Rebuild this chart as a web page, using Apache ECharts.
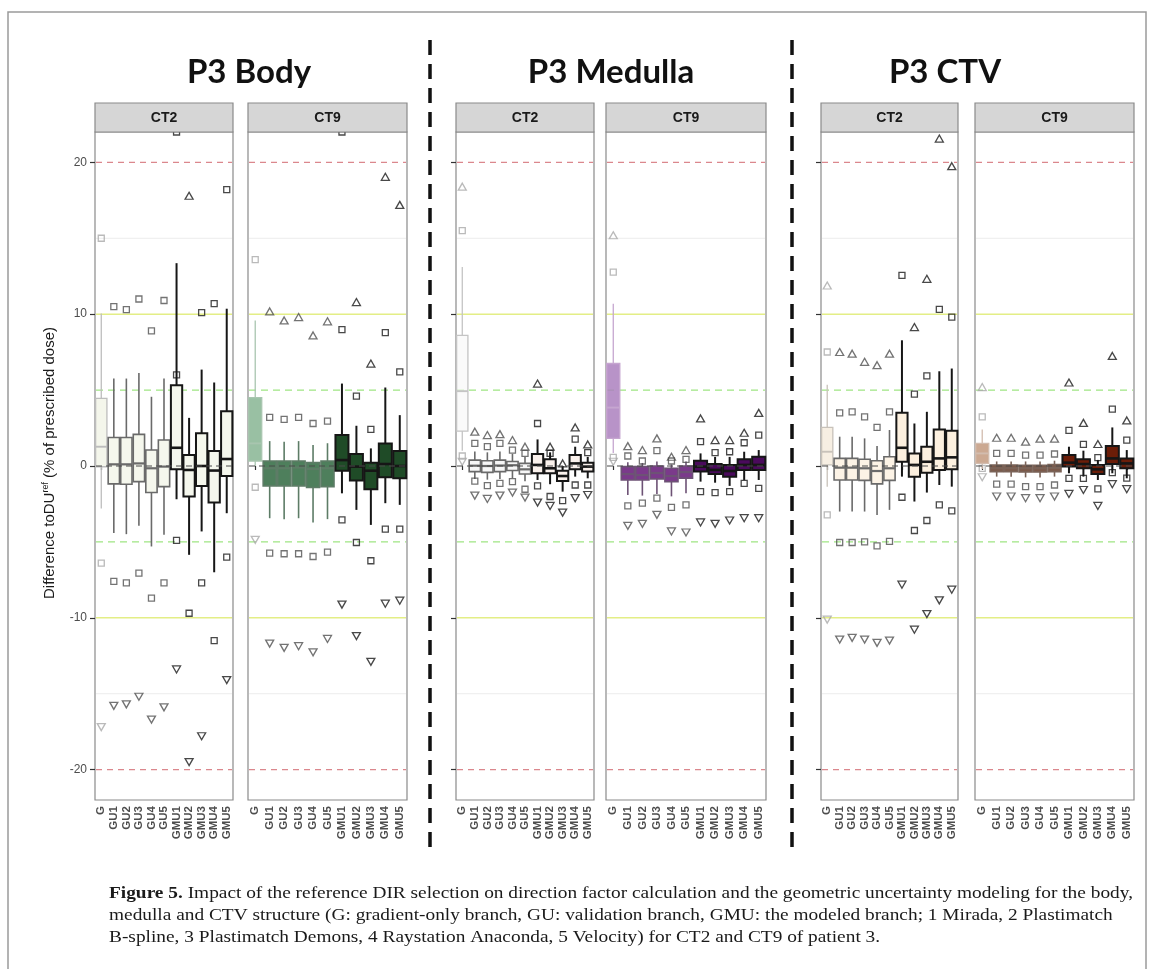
<!DOCTYPE html>
<html><head><meta charset="utf-8">
<script src="https://cdn.jsdelivr.net/npm/echarts@6/dist/echarts.min.js"></script>
<style>html,body{margin:0;padding:0;background:#fff}#c{width:1153px;height:969px}</style>
</head><body><div id="c"></div>
<script>
// ---------------- DATA ----------------
const categories = ['G','GU1','GU2','GU3','GU4','GU5','GMU1','GMU2','GMU3','GMU4','GMU5'];
const yTicks = [-20, -10, 0, 10, 20];
const refLineValues = [20, 15, 10, 5, -5, -10, -15, -20];
const groupTitles = ['P3 Body', 'P3 Medulla', 'P3 CTV'];
const facetLabels = ['CT2', 'CT9'];

// box: [low whisker, Q1, median, Q3, high whisker]
const bodyCT2Box = [[-2.8,-0.05,1.27,4.45,10.05],[-4.42,-1.18,0.11,1.88,5.76],[-4.49,-1.2,0.11,1.88,5.76],[-3.94,-1.03,0.17,2.08,6.13],[-5.3,-1.75,-0.15,1.05,4.56],[-4.53,-1.36,-0.04,1.71,5.76],[-2.19,-0.22,1.2,5.32,13.36],[-5.85,-2.01,-0.26,0.72,3.17],[-4.31,-1.31,0.0,2.15,6.35],[-7.0,-2.41,-0.3,0.99,5.5],[-3.11,-0.66,0.46,3.61,10.36]];
const bodyCT2Up = [null,null,null,null,null,null,null,17.8,null,null,null];
const bodyCT2Sq = [[15.0,-6.4],[10.5,-7.6],[10.3,-7.7],[11.0,-7.05],[8.9,-8.7],[10.9,-7.7],[22.0,6.0,-4.9],[-9.7],[10.1,-7.7],[10.7,-11.5],[18.2,-6.0]];
const bodyCT2Down = [-17.2,-15.8,-15.7,-15.2,-16.7,-15.9,-13.4,-19.5,-17.8,null,-14.1];

const bodyCT9Box = [[0.0,0.33,1.49,4.51,9.59],[-3.44,-1.31,-0.15,0.33,1.64],[-3.5,-1.31,-0.15,0.33,1.6],[-3.44,-1.31,-0.1,0.33,1.64],[-3.72,-1.42,-0.2,0.22,1.38],[-3.5,-1.36,-0.15,0.33,1.5],[-1.8,-0.31,0.39,2.04,5.43],[-2.89,-0.96,-0.04,0.79,2.65],[-3.88,-1.53,-0.31,0.22,1.16],[-2.45,-0.74,0.13,1.49,5.17],[-2.56,-0.81,0.0,0.99,3.35]];
const bodyCT9Up = [null,10.18,9.59,9.81,8.6,9.53,null,10.8,6.75,19.05,17.2];
const bodyCT9Sq = [[13.6,-1.4],[3.2,-5.74],[3.07,-5.78],[3.2,-5.78],[2.8,-5.96],[2.96,-5.67],[22.0,8.98,-3.55],[4.6,-5.04],[2.41,-6.24],[8.78,-4.16],[6.2,-4.16]];
const bodyCT9Down = [-4.86,-11.7,-11.98,-11.87,-12.27,-11.39,-9.13,-11.2,-12.9,-9.07,-8.87];

const medCT2Box = [[1.0,2.3,4.93,8.6,13.1],[-0.85,-0.37,0.02,0.39,0.95],[-0.9,-0.42,0.0,0.35,0.9],[-0.85,-0.37,0.03,0.39,0.95],[-0.8,-0.3,0.05,0.3,0.8],[-1.0,-0.53,-0.22,0.17,0.6],[-0.92,-0.48,0.07,0.79,1.75],[-1.2,-0.48,-0.15,0.44,0.9],[-1.69,-0.99,-0.66,-0.31,0.0],[-0.7,-0.22,0.17,0.72,1.27],[-0.81,-0.37,-0.04,0.22,0.6]];
const medCT2Up = [18.4,2.26,2.04,2.1,1.71,1.27,5.43,1.27,0.17,2.54,1.42];
const medCT2Sq = [[15.5,0.66],[1.49,-0.99],[1.27,-1.29],[1.49,-1.14],[1.05,-1.03],[0.83,-1.53],[2.8,-1.31],[0.83,-2.01],[-2.28],[1.77,-1.25],[0.88,-1.25]];
const medCT2Down = [0.28,-1.95,-2.17,-1.95,-1.75,-2.08,-2.41,-2.63,-3.07,-2.12,-1.91];

const medCT9Box = [[0.85,1.82,3.85,6.75,10.69],[-1.91,-0.92,-0.53,-0.04,0.25],[-1.95,-0.92,-0.6,-0.04,0.2],[-1.85,-0.85,-0.46,0.0,0.3],[-2.0,-1.03,-0.66,-0.15,0.1],[-1.8,-0.8,-0.4,0.0,0.3],[-1.03,-0.37,-0.04,0.35,0.83],[-1.1,-0.53,-0.26,0.13,0.6],[-1.31,-0.7,-0.33,0.07,0.6],[-0.92,-0.26,0.07,0.44,0.94],[-0.92,-0.26,0.07,0.61,1.05]];
const medCT9Up = [15.2,1.31,1.05,1.82,0.61,1.05,3.13,1.71,1.71,2.19,3.5];
const medCT9Sq = [[12.77,0.57],[0.66,-2.63],[0.33,-2.45],[1.01,-2.12],[0.33,-2.72],[0.44,-2.56],[1.6,-1.69],[0.88,-1.75],[0.94,-1.69],[1.53,-1.14],[2.04,-1.47]];
const medCT9Down = [0.28,-3.94,-3.81,-3.22,-4.31,-4.38,-3.72,-3.81,-3.59,-3.44,-3.44];

const ctvCT2Box = [[-1.36,0.07,0.94,2.54,5.36],[-3.0,-0.92,-0.11,0.5,1.93],[-3.0,-0.92,-0.11,0.5,1.93],[-3.0,-0.95,-0.15,0.44,1.82],[-3.22,-1.18,-0.33,0.35,1.31],[-2.89,-0.95,-0.15,0.61,2.37],[-0.7,0.28,1.2,3.5,8.28],[-2.34,-0.7,0.07,0.83,2.8],[-1.75,-0.44,0.28,1.27,3.57],[-1.25,-0.26,0.5,2.41,6.24],[-1.36,-0.22,0.57,2.32,6.42]];
const ctvCT2Up = [11.89,7.51,7.4,6.86,6.64,7.4,null,9.15,12.33,21.57,19.75];
const ctvCT2Sq = [[7.51,-3.22],[3.5,-5.04],[3.57,-5.04],[3.24,-5.0],[2.54,-5.26],[3.57,-4.97],[12.55,-2.06],[4.73,-4.25],[5.93,-3.59],[10.32,-2.56],[9.81,-2.96]];
const ctvCT2Down = [-10.12,-11.43,-11.32,-11.43,-11.65,-11.5,-7.82,-10.78,-9.75,-8.85,-8.15];

const ctvCT9Box = [[-0.2,0.17,0.83,1.49,2.4],[-0.7,-0.37,-0.15,0.07,0.3],[-0.7,-0.37,-0.15,0.07,0.3],[-0.75,-0.4,-0.15,0.05,0.3],[-0.75,-0.4,-0.15,0.05,0.3],[-0.7,-0.37,-0.12,0.1,0.35],[-0.48,-0.04,0.22,0.72,1.27],[-0.7,-0.15,0.13,0.44,1.01],[-0.92,-0.53,-0.22,0.07,0.4],[-0.48,0.13,0.5,1.31,2.54],[-0.81,-0.15,0.17,0.5,1.05]];
const ctvCT9Up = [5.2,1.86,1.86,1.6,1.8,1.8,5.5,2.84,1.45,7.25,3.0];
const ctvCT9Sq = [[3.24,-0.15],[0.83,-1.2],[0.83,-1.2],[0.72,-1.36],[0.72,-1.36],[0.79,-1.25],[2.34,-0.81],[1.42,-0.81],[0.55,-1.51],[3.75,-0.44],[1.71,-0.8]];
const ctvCT9Down = [-0.74,-2.01,-2.01,-2.12,-2.12,-2.01,-1.84,-1.58,-2.63,-1.2,-1.53];

// ---------------- STYLE / LAYOUT ----------------
const PT = {G:'#a9a9a9', GU:'#505050', GMU:'#1a1a1a'};
function pal(gFill, gStroke, guFill, guStroke, gmuFill) {
  return {
    G:{fill:gFill, stroke:gStroke, lw:1.3},
    GU:{fill:guFill, stroke:guStroke, lw:1.6},
    GMU:{fill:gmuFill, stroke:'#161616', lw:2}
  };
}
const panels = [
  {left:95, width:138, box:bodyCT2Box, up:bodyCT2Up, sq:bodyCT2Sq, down:bodyCT2Down, facet:0, ticks:true, labels:true,
   pal:pal('rgba(236,240,222,0.6)','#bdbdbd','#f5f7ed','#6a6a6a','#f5f7ed')},
  {left:248, width:159, box:bodyCT9Box, up:bodyCT9Up, sq:bodyCT9Sq, down:bodyCT9Down, facet:1, ticks:false, labels:false,
   pal:pal('rgba(128,176,140,0.8)','#a8c5af','#4e7f5c','#5d7c66','#1f4b27')},
  {left:456, width:138, box:medCT2Box, up:medCT2Up, sq:medCT2Sq, down:medCT2Down, facet:0, ticks:true, labels:false,
   pal:pal('rgba(246,246,246,0.6)','#c4c4c4','#f7f7f7','#6a6a6a','#faf1ec')},
  {left:606, width:160, box:medCT9Box, up:medCT9Up, sq:medCT9Sq, down:medCT9Down, facet:1, ticks:false, labels:false,
   pal:pal('rgba(172,128,190,0.85)','#c6a6d0','#7b3a8b','#6d5275','#4a0a5c')},
  {left:821, width:137, box:ctvCT2Box, up:ctvCT2Up, sq:ctvCT2Sq, down:ctvCT2Down, facet:0, ticks:true, labels:false,
   pal:pal('rgba(244,234,218,0.75)','#c8c2ba','#fcf3e6','#6a6a6a','#fcf0df')},
  {left:975, width:159, box:ctvCT9Box, up:ctvCT9Up, sq:ctvCT9Sq, down:ctvCT9Down, facet:1, ticks:false, labels:false,
   pal:pal('rgba(198,160,134,0.9)','#d2bcae','#7b5848','#7a6358','#6b1d08')}
];
const GRID_TOP = 132, GRID_H = 668, STRIP_TOP = 103;
function grp(i){ return i === 0 ? 'G' : (i <= 5 ? 'GU' : 'GMU'); }
function refStyle(v){
  const a = Math.abs(v);
  if (a === 20) return {c:'#db878d', w:1.3, d:[6,5]};
  if (a === 15) return {c:'#ececec', w:1, d:null};
  if (a === 10) return {c:'#e3ee86', w:1.6, d:null};
  return {c:'#9fe583', w:1.4, d:[7,5]};
}

const grids = [], xAxes = [], yAxes = [], series = [], graphics = [];
panels.forEach((p, k) => {
  grids.push({left:p.left, top:GRID_TOP, width:p.width, height:GRID_H, show:true, borderColor:'#8a8a8a', borderWidth:1.2, backgroundColor:'#fff'});
  xAxes.push({type:'category', gridIndex:k, data:categories, boundaryGap:true,
    axisLine:{show:false}, axisTick:{show:true, alignWithLabel:true, length:4, lineStyle:{color:'#333', width:1.2}},
    axisLabel:{rotate:90, margin:6, fontSize:11.5, fontWeight:'bold', color:'#4d4d4d', fontFamily:'Liberation Sans, Arial', interval:0},
    splitLine:{show:false}});
  yAxes.push({type:'value', gridIndex:k, min:-22, max:22,
    axisLine:{show:false}, splitLine:{show:false},
    axisTick:{show:p.ticks, length:5, customValues:yTicks, lineStyle:{color:'#333', width:1.2}},
    axisLabel:{show:p.labels, customValues:yTicks, color:'#4d4d4d', fontSize:12, margin:8, fontFamily:'Liberation Sans, Arial'}});
  // reference lines (behind)
  series.push({type:'custom', xAxisIndex:k, yAxisIndex:k, z:1, silent:true,
    data: refLineValues.map(v => [0, v]), encode:{x:0, y:1},
    renderItem:(params, api) => {
      const cs = params.coordSys; const v = api.value(1);
      const y = api.coord([0, v])[1]; const st = refStyle(v);
      return {type:'line', shape:{x1:cs.x+1, y1:y, x2:cs.x+cs.width-1, y2:y}, style:{stroke:st.c, lineWidth:st.w, lineDash:st.d}};
    }});
  // boxes
  series.push({type:'custom', xAxisIndex:k, yAxisIndex:k, z:2, silent:true,
    data: p.box.map((b, i) => [i].concat(b)), encode:{x:0, y:[1,2,3,4,5]},
    renderItem:(params, api) => {
      const i = api.value(0); const st = p.pal[grp(i)];
      const x = api.coord([i, 0])[0];
      const yl = api.coord([i, api.value(1)])[1], y1 = api.coord([i, api.value(2)])[1],
            ym = api.coord([i, api.value(3)])[1], y3 = api.coord([i, api.value(4)])[1],
            yh = api.coord([i, api.value(5)])[1];
      const bw = api.size([1, 0])[0] * 0.9;
      return {type:'group', children:[
        {type:'line', shape:{x1:x, y1:yh, x2:x, y2:y3}, style:{stroke:st.stroke, lineWidth:st.lw}},
        {type:'line', shape:{x1:x, y1:y1, x2:x, y2:yl}, style:{stroke:st.stroke, lineWidth:st.lw}},
        {type:'rect', shape:{x:x-bw/2, y:y3, width:bw, height:y1-y3}, style:{fill:st.fill, stroke:st.stroke, lineWidth:st.lw}},
        {type:'line', shape:{x1:x-bw/2, y1:ym, x2:x+bw/2, y2:ym}, style:{stroke:st.stroke, lineWidth:st.lw+0.6}}
      ]};
    }});
  // outliers
  const mk = (arr) => { const out = []; arr.forEach((v, i) => { if (v === null) return; (Array.isArray(v) ? v : [v]).forEach(u => out.push({value:[i, u], itemStyle:{borderColor:PT[grp(i)]}})); }); return out; };
  const base = {type:'scatter', xAxisIndex:k, yAxisIndex:k, z:3, silent:true, clip:false,
    itemStyle:{color:'rgba(0,0,0,0)', borderWidth:1.3}};
  series.push(Object.assign({}, base, {symbol:'triangle', symbolSize:[8,7], data:mk(p.up)}));
  series.push(Object.assign({}, base, {symbol:'rect', symbolSize:6, data:mk(p.sq)}));
  series.push(Object.assign({}, base, {symbol:'triangle', symbolRotate:180, symbolSize:[8,7], data:mk(p.down)}));
  // zero line on top
  series.push({type:'custom', xAxisIndex:k, yAxisIndex:k, z:4, silent:true,
    data:[[0, 0]], encode:{x:0, y:1},
    renderItem:(params, api) => {
      const cs = params.coordSys; const y = api.coord([0, api.value(1)])[1];
      return {type:'line', shape:{x1:cs.x+1, y1:y, x2:cs.x+cs.width-1, y2:y}, style:{stroke:'#4a4a4a', lineWidth:1, lineDash:[6,4]}};
    }});
  // strip
  graphics.push({type:'rect', z:100, shape:{x:p.left, y:STRIP_TOP, width:p.width, height:GRID_TOP-STRIP_TOP},
    style:{fill:'#d6d6d6', stroke:'#8a8a8a', lineWidth:1.2}});
  graphics.push({type:'text', z:101, x:p.left + p.width/2, y:(STRIP_TOP+GRID_TOP)/2+1,
    style:{text:facetLabels[p.facet], fontSize:14, fontWeight:'bold', fontFamily:'Liberation Sans, Arial', fill:'#1a1a1a', align:'center', verticalAlign:'middle'}});
});

// group titles
[[249, 0], [611, 1], [945, 2]].forEach(([cx, gi]) => {
  graphics.push({type:'text', z:101, x:cx, y:72,
    style:{text:groupTitles[gi], fontSize:33, fontWeight:'bold', fontFamily:'Lato, "Open Sans", sans-serif', fill:'#111', align:'center', verticalAlign:'middle'}});
});
// dashed separators
[430, 792].forEach(x => graphics.push({type:'line', z:100, shape:{x1:x, y1:40, x2:x, y2:856},
  style:{stroke:'#111', lineWidth:3.5, lineDash:[15,9]}}));
// outer frame
graphics.push({type:'rect', z:99, shape:{x:8, y:12, width:1138, height:975}, style:{fill:'none', stroke:'#9a9a9a', lineWidth:1.5}});
// y axis title
graphics.push({type:'text', z:101, x:50, y:463, rotation:Math.PI/2,
  style:{text:'Difference toDU{s|ref} (% of prescribed dose)', fontSize:15, fontFamily:'Liberation Sans, Arial', fill:'#1a1a1a',
    align:'center', verticalAlign:'middle', lineHeight:18, rich:{s:{fontSize:9, verticalAlign:'top', lineHeight:18, fill:'#1a1a1a', fontFamily:'Liberation Sans, Arial'}}}});

// caption
const capLines = [
  'Impact of the reference DIR selection on direction factor calculation and the geometric uncertainty modeling for the body,',
  'medulla and CTV structure (G: gradient-only branch, GU: validation branch, GMU: the modeled branch; 1 Mirada, 2 Plastimatch',
  'B-spline, 3 Plastimatch Demons, 4 Raystation Anaconda, 5 Velocity) for CT2 and CT9 of patient 3.'
];
const CAP_FONT = '"Liberation Serif", "DejaVu Serif", serif', CAP_SIZE = 17;
const mctx = document.createElement('canvas').getContext('2d');
mctx.font = 'bold ' + CAP_SIZE + 'px ' + CAP_FONT; const wBold = mctx.measureText('Figure 5.').width;
mctx.font = CAP_SIZE + 'px ' + CAP_FONT; const wRest = mctx.measureText(' ' + capLines[0]).width;
const capScale = 1024 / (wBold + wRest);
capLines.forEach((t, li) => {
  graphics.push({type:'text', z:101, x:109, y:894 + li*22, scaleX:capScale, scaleY:1,
    style:{text: li === 0 ? '{b|Figure 5.} ' + t : t, fontSize:CAP_SIZE, fontFamily:CAP_FONT, fill:'#1a1a1a', align:'left', verticalAlign:'middle',
      rich:{b:{fontWeight:'bold', fontSize:CAP_SIZE, fontFamily:CAP_FONT, fill:'#1a1a1a'}}}});
});

const chart = echarts.init(document.getElementById('c'), null, {renderer:'canvas'});
chart.setOption({animation:false, backgroundColor:'#fff', grid:grids, xAxis:xAxes, yAxis:yAxes, series:series, graphic:graphics});
</script></body></html>
